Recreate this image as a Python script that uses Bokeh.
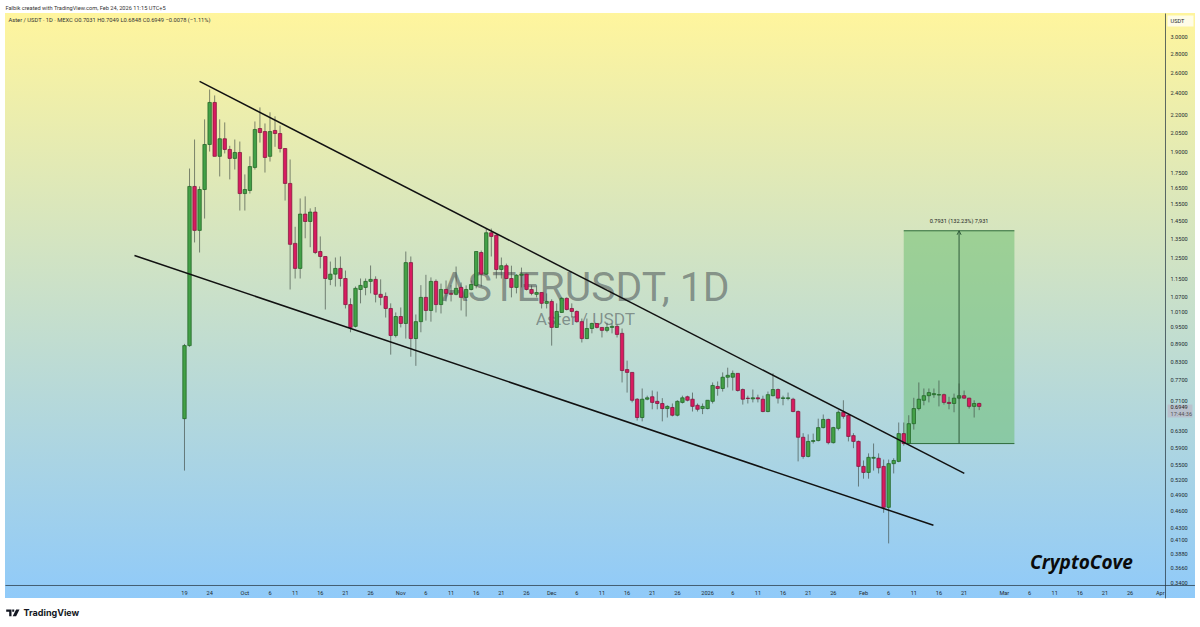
from bokeh.plotting import figure
from bokeh.core.properties import value
from bokeh.models import (ColumnDataSource, Range1d, LogAxis, LinearAxis, FixedTicker,
                          Label, BoxAnnotation, PolyAnnotation, Arrow, OpenHead, LogScale)
from bokeh.embed import file_html
from bokeh.resources import INLINE

# ---------- data ----------
opens = [.662,.884,1.660,1.395,1.640,1.960,2.315,1.870,2.005,1.922,1.855,1.899,1.614,1.634,1.790,2.088,2.063,1.870,2.072,2.047,
         1.929,1.680,1.325,1.200,1.488,1.445,1.500,1.283,1.258,1.149,1.173,1.200,1.153,1.040,.954,1.104,1.113,1.140,1.149,1.083,
         1.074,1.024,.920,.992,.965,1.228,.909,.972,1.070,1.016,1.140,1.040,1.104,1.087,1.083,1.113,1.070,1.104,1.122,1.278,
         1.173,1.382,1.368,1.195,1.213,1.153,1.113,1.168,1.173,1.104,1.083,1.091,1.045,1.053,.950,1.008,1.066,1.024,1.012,.972,
         .909,.946,.965,.950,.939,.950,.954,.928,.804,.795,.715,.665,.715,.722,.709,.703,.689,.692,.671,.706,
         .722,.715,.698,.689,.689,.709,.752,.746,.780,.780,.792,.743,.718,.716,.719,.715,.681,.725,.743,.717,
         .717,.715,.681,.615,.570,.605,.607,.639,.660,.602,.637,.679,.671,.619,.605,.548,.535,.566,.566,.548,
         .466,.554,.559,.624,.600,.649,.689,.712,.725,.728,.727,.728,.706,.703,.718,.725,.718,.695,.7031]
highs = [.890,1.782,1.999,1.660,2.165,2.437,2.380,2.165,2.139,1.950,1.999,1.983,1.741,1.870,2.147,2.270,2.130,2.226,2.191,2.113,
         1.929,1.847,1.415,1.583,1.596,1.522,1.530,1.362,1.258,1.233,1.253,1.258,1.190,1.066,1.117,1.153,1.153,1.214,1.163,1.149,
         1.091,1.045,1.008,1.028,1.283,1.258,1.000,1.123,1.170,1.158,1.149,1.130,1.144,1.123,1.209,1.135,1.122,1.144,1.283,1.288,
         1.405,1.405,1.378,1.253,1.223,1.213,1.173,1.204,1.175,1.122,1.122,1.091,1.087,1.062,1.045,1.070,1.070,1.045,1.016,.984,
         .984,.968,.965,.950,.968,.965,.961,.946,.833,.795,.718,.746,.725,.740,.737,.718,.698,.703,.712,.725,
         .725,.734,.703,.703,.712,.764,.767,.795,.810,.801,.792,.746,.725,.743,.728,.725,.737,.792,.746,.725,
         .734,.719,.684,.625,.622,.624,.662,.673,.662,.641,.684,.712,.674,.625,.607,.561,.577,.600,.577,.563,
         .563,.566,.652,.652,.671,.719,.764,.746,.746,.746,.770,.731,.722,.731,.761,.740,.719,.712,.7049]
lows = [.539,.880,1.330,1.278,1.462,1.906,1.870,1.727,1.892,1.707,1.775,1.509,1.509,1.614,1.775,1.975,1.754,1.832,1.942,1.899,
        1.570,1.104,1.153,1.153,1.352,1.305,1.270,1.200,1.020,1.123,1.117,1.117,1.024,.932,.950,1.045,1.079,1.087,1.049,1.037,
        .988,.853,.913,.950,.909,.846,.816,.932,.976,.972,1.008,1.004,1.053,1.053,1.079,1.016,.992,1.100,1.109,1.117,
        1.170,1.258,1.153,1.153,1.150,1.070,1.087,1.113,1.100,1.079,1.070,1.024,1.024,.884,.948,1.006,1.016,.988,.968,.895,
        .907,.928,.946,.913,.932,.928,.913,.764,.734,.706,.657,.655,.712,.687,.687,.655,.665,.668,.668,.703,
        .709,.681,.681,.674,.687,.703,.725,.737,.749,.740,.737,.700,.703,.706,.706,.679,.679,.723,.703,.698,
        .712,.679,.559,.565,.568,.600,.605,.637,.598,.600,.632,.662,.605,.589,.506,.522,.522,.539,.533,.456,
        .404,.533,.557,.595,.598,.634,.684,.698,.706,.719,.695,.700,.687,.679,.715,.716,.689,.665,.6848]
closes = [.884,1.660,1.395,1.640,1.960,2.315,1.870,2.005,1.922,1.855,1.899,1.614,1.640,1.796,2.080,2.055,1.862,2.063,2.047,1.929,
          1.680,1.320,1.200,1.488,1.445,1.500,1.278,1.258,1.153,1.173,1.200,1.153,1.040,.950,1.109,1.122,1.140,1.149,1.083,1.070,
          1.024,.920,.992,.965,1.228,.909,.972,1.070,1.016,1.140,1.040,1.104,1.087,1.083,1.109,1.070,1.104,1.126,1.283,1.173,
          1.382,1.362,1.195,1.213,1.153,1.113,1.168,1.173,1.104,1.087,1.091,1.045,1.053,.950,1.012,1.066,1.020,1.012,.972,.909,
          .946,.965,.950,.939,.950,.954,.924,.801,.795,.712,.665,.715,.719,.706,.703,.689,.695,.671,.709,.719,
          .712,.695,.687,.695,.712,.755,.746,.780,.786,.792,.740,.715,.717,.719,.716,.681,.728,.743,.718,.719,
          .719,.681,.615,.570,.605,.607,.639,.660,.602,.639,.679,.668,.617,.605,.548,.535,.568,.568,.545,.466,
          .554,.561,.624,.600,.649,.689,.715,.725,.734,.731,.728,.706,.703,.718,.725,.718,.695,.703,.6949]

y_ticks = [3.0,2.8,2.6,2.4,2.2,2.05,1.9,1.75,1.65,1.55,1.45,1.35,1.25,1.15,1.07,1.01,.95,.89,.83,.77,.71,
           .63,.59,.55,.52,.49,.46,.43,.41,.388,.366,.345]
y_labels = ["3.0000","2.8000","2.6000","2.4000","2.2000","2.0500","1.9000","1.7500","1.6500","1.5500","1.4500",
            "1.3500","1.2500","1.1500","1.0700","1.0100","0.9500","0.8900","0.8300","0.7700","0.7100",
            "0.6300","0.5900","0.5500","0.5200","0.4900","0.4600","0.4300","0.4100","0.3880","0.3660","0.3400"]
x_ticks = [0,5,12,17,22,27,32,37,43,48,53,58,63,68,73,78,83,88,93,98,104,109,114,119,124,129,135,140,145,150,155,
           163,168,173,178,183,188,194]
x_labels = ["19","24","Oct","6","11","16","21","26","Nov","6","11","16","21","26","Dec","6","11","16","21","26",
            "2026","6","11","16","21","26","Feb","6","11","16","21","Mar","6","11","16","21","26","Apr"]

upper_x, upper_y = [3.0, 155.04], [2.516, 0.533]
lower_x, lower_y = [-9.94, 148.9], [1.263, 0.434]
measure_left, measure_right = 143, 165
measure_low, measure_high = 0.5998, 1.3929
axis_day, axis_price = 195.04, 0.342     # where the price and time axes cross

# ---------- figure ----------
days = list(range(len(opens)))
GREEN, RED = "#43a047", "#d81b60"
src = ColumnDataSource(dict(
    x=days, o=opens, h=highs, l=lows, c=closes,
    top=[max(a, b) for a, b in zip(opens, closes)],
    bot=[min(a, b) for a, b in zip(opens, closes)],
    fill=[GREEN if c >= o else RED for o, c in zip(opens, closes)],
    edge=["#1b5e20" if c >= o else "#7b1238" for o, c in zip(opens, closes)],
))

H = 627
p = figure(width=1200, height=H, output_backend="svg", toolbar_location=None,
           x_range=Range1d(-36.58, 202.0), y_range=Range1d(0.2896, 3.466), y_axis_type=None, x_axis_type=None,
           min_border_left=0, min_border_right=0, min_border_top=0, min_border_bottom=0,
           background_fill_color=None, border_fill_color=None, outline_line_color=None)
p.y_scale = LogScale()
p.styles = {"background": "linear-gradient(#FFF59D,#90CAF9) 5px 13px / 1190px 585px no-repeat"}
p.grid.visible = False

AXC = "#2a3a44"
ya = LogAxis(ticker=FixedTicker(ticks=y_ticks), major_label_overrides=dict(zip(y_ticks, y_labels)),
             major_tick_line_color=None, minor_tick_line_color=None, major_tick_in=0, major_tick_out=0,
             axis_line_color=None,
             major_label_text_font="Roboto", major_label_text_font_size="5.6px", major_label_text_color="#1e2a30",
             major_label_standoff=-30)
p.add_layout(ya, "right")
xa = LinearAxis(ticker=FixedTicker(ticks=x_ticks), major_label_overrides=dict(zip(x_ticks, x_labels)),
                major_tick_line_color=None, minor_tick_line_color=None, major_tick_in=0, major_tick_out=0,
                axis_line_color=None,
                major_label_text_font="Roboto", major_label_text_font_size="5.6px", major_label_text_color="#1e2a30",
                major_label_standoff=-38)
p.add_layout(xa, "below")
p.line([axis_day, axis_day], [0.325, 3.292], line_color=AXC, line_alpha=.75, line_width=1)
p.line([-35.6, 200.9], [axis_price, axis_price], line_color=AXC, line_alpha=.75, line_width=1)

# watermark
p.text([79.7], [1.113], ["ASTERUSDT, 1D"], text_font=value("Roboto"), text_font_size="40.8px", text_align="center",
       text_baseline="middle", text_color="#2a2e39", text_alpha=.45)
p.text([79.7], [0.984], ["Aster / USDT"], text_font=value("Roboto"), text_font_size="17.3px", text_align="center",
       text_baseline="middle", text_color="#2a2e39", text_alpha=.45)

# measure box
p.quad(left=[measure_left], right=[measure_right], bottom=[measure_low], top=[measure_high],
       fill_color="#66bb6a", fill_alpha=.5, line_color=None)
p.segment(x0=[measure_left]*2, x1=[measure_right]*2, y0=[measure_low, measure_high], y1=[measure_low, measure_high],
          line_color="#2e6b3a", line_width=1)
p.add_layout(Arrow(x_start=154, x_end=154, y_start=measure_low, y_end=measure_high, line_color="#2e5a3a", line_width=1,
                   end=OpenHead(size=4, line_width=1, line_color="#2e5a3a")))
p.text([154], [1.45], ["0.7931 (132.23%) 7,931"], text_font=value("Roboto"), text_font_size="5.6px", text_align="center",
       text_baseline="middle", text_color="#222")

# candles
p.segment("x", "h", "x", "l", source=src, line_color="#39423c", line_alpha=.62, line_width=1)
p.vbar("x", width=.68, top="top", bottom="bot", source=src, fill_color="fill", line_color="edge", line_width=.7)

# trend lines
p.line(upper_x, upper_y, line_color="#111", line_width=1.5)
p.line(lower_x, lower_y, line_color="#111", line_width=1.5)

# screen-unit annotations are measured from the frame's bottom-left corner
def lab(img_x, img_y, text, size, font="Roboto", color="#1e2a30", align="left", style="normal", alpha=1.0):
    p.add_layout(Label(x=img_x, y=H - img_y, x_units="screen", y_units="screen", text=text,
                       text_font=font, text_font_size=size, text_color=color, text_align=align,
                       text_baseline="middle", text_font_style=style, text_alpha=alpha))

lab(5, 7, "Falbik created with TradingView.com, Feb 24, 2026 11:15 UTC+5", "5.65px", color="#333")
lab(8, 19.5, "Aster / USDT \u00b7 1D \u00b7 MEXC  O0.7031  H0.7049  L0.6848  C0.6949  \u22120.0078 (\u22121.11%)", "5.75px", color="#333")
lab(1081, 561, "CryptoCove", "19px", font="Open Sans", color="#0b0b0b", align="center", style="bold italic")

def box(l, r, t, b, color, alpha):
    p.add_layout(BoxAnnotation(left=l, right=r, top=H - t, bottom=H - b, left_units="screen", right_units="screen",
                               top_units="screen", bottom_units="screen", fill_color=color, fill_alpha=alpha, line_color=None))

box(1167, 1193, 15, 26, "#ffffff", .75)
lab(1177, 20.5, "USDT", "5.6px", align="center")
box(1167, 1192, 404, 417, "#e91e63", .12)
lab(1170, 406.5, "0.6949", "5.6px", color="#222")
lab(1170, 413, "17:44:36", "5.6px", color="#555")

# TradingView footer
lab(23, 612, "TradingView", "9px", font="Inter", color="#131722", style="bold")
def poly(xs, ys):
    p.add_layout(PolyAnnotation(xs=list(xs), ys=[H - y for y in ys], xs_units="screen", ys_units="screen",
                                fill_color="#131722", fill_alpha=1, line_color=None))
poly([5.7, 11, 11, 8.7, 8.7, 5.7], [609, 609, 615.7, 615.7, 611.3, 611.3])
poly([11.7, 13.7, 13.7, 11.7], [609, 609, 611.2, 611.2])
poly([15.6, 19, 15.6, 12.2], [609, 609, 615.7, 615.7])

open("out.html", "w").write(file_html(p, INLINE))
